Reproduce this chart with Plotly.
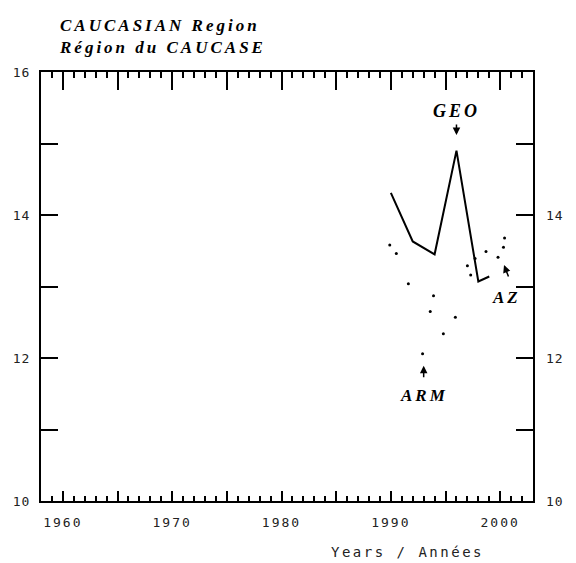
import plotly.graph_objects as go

# ---- data ----
geo_years = [1990, 1992, 1994, 1996, 1998, 1999]
geo_vals = [14.31, 13.63, 13.45, 14.90, 13.07, 13.14]

arm_years = [1989.9, 1990.5, 1991.6, 1992.9, 1993.6, 1993.9, 1994.8, 1995.9]
arm_vals = [13.58, 13.46, 13.04, 12.06, 12.65, 12.87, 12.34, 12.57]

az_years = [1997.0, 1997.3, 1997.7, 1998.7, 1999.8, 2000.3, 2000.4]
az_vals = [13.29, 13.16, 13.39, 13.49, 13.41, 13.55, 13.68]

x_major = [1960, 1965, 1970, 1975, 1980, 1985, 1990, 1995, 2000]
x_labels = ["1960", "", "1970", "", "1980", "", "1990", "", "2000"]
y_left_ticks = [10, 12, 14, 16]
y_right_ticks = [10, 12, 14]

MONO = "DejaVu Sans Mono"
SERIF = "Liberation Serif"


def spaced(t, ls):
    return '<span style="letter-spacing:%spx">%s</span>' % (ls, t)


def ital(t, ls=3):
    return '<b><i><span style="letter-spacing:%spx">%s</span></i></b>' % (ls, t)


fig = go.Figure()

fig.add_trace(go.Scatter(x=geo_years, y=geo_vals, mode="lines",
                         line=dict(color="black", width=2), showlegend=False,
                         hoverinfo="skip"))
fig.add_trace(go.Scatter(x=arm_years, y=arm_vals, mode="markers",
                         marker=dict(color="black", size=3), showlegend=False,
                         hoverinfo="skip"))
fig.add_trace(go.Scatter(x=az_years, y=az_vals, mode="markers",
                         marker=dict(color="black", size=3), showlegend=False,
                         hoverinfo="skip"))
# invisible traces to activate the top and right axes
fig.add_trace(go.Scatter(x=[1990], y=[13], xaxis="x2", yaxis="y",
                         mode="markers", marker=dict(opacity=0),
                         showlegend=False, hoverinfo="skip"))
fig.add_trace(go.Scatter(x=[1990], y=[13], xaxis="x", yaxis="y2",
                         mode="markers", marker=dict(opacity=0),
                         showlegend=False, hoverinfo="skip"))

fig.update_layout(
    width=576, height=563,
    margin=dict(l=41, r=36, t=72, b=62),
    paper_bgcolor="white", plot_bgcolor="white",
    font=dict(family=MONO, color="black", size=14),
    xaxis=dict(range=[1958, 2003], showgrid=False, zeroline=False,
               showline=True, linecolor="black", linewidth=2,
               tickmode="array", tickvals=x_major,
               ticktext=[spaced(t, 2) if t else "" for t in x_labels],
               ticks="inside", ticklen=10, tickwidth=2, tickcolor="black",
               minor=dict(dtick=1, tick0=1958, ticks="inside", ticklen=5,
                          tickwidth=1.5, tickcolor="black", showgrid=False),
               ticklabelstandoff=8,
               tickfont=dict(family=MONO, size=13, color="#222")),
    xaxis2=dict(range=[1958, 2003], overlaying="x", side="top", anchor="y",
                showgrid=False, zeroline=False, showline=True,
                linecolor="black", linewidth=2,
                tickmode="array", tickvals=x_major, showticklabels=False,
                ticks="inside", ticklen=18, tickwidth=2, tickcolor="black",
                minor=dict(dtick=1, tick0=1958, ticks="inside", ticklen=6,
                           tickwidth=1.5, tickcolor="black", showgrid=False)),
    yaxis=dict(range=[10, 16], showgrid=False, zeroline=False,
               showline=True, linecolor="black", linewidth=2,
               mirror="allticks",
               tickmode="array", tickvals=y_left_ticks,
               ticktext=[spaced(str(v), 1) for v in y_left_ticks],
               ticks="inside", ticklen=17, tickwidth=2, tickcolor="black",
               minor=dict(dtick=1, tick0=10, ticks="inside", ticklen=8,
                          tickwidth=1.5, tickcolor="black", showgrid=False),
               ticklabelstandoff=6,
               tickfont=dict(family=MONO, size=13, color="#222")),
    yaxis2=dict(range=[10, 16], overlaying="y", side="right", anchor="x",
                showgrid=False, zeroline=False, showline=False,
                tickmode="array", tickvals=y_right_ticks,
                ticktext=[spaced(str(v), 1) for v in y_right_ticks],
                ticks="", ticklabelstandoff=12,
                tickfont=dict(family=MONO, size=13, color="#222")),
)

annotations = [
    # title
    dict(text=ital("CAUCASIAN Region", 3) + "<br>" + ital("Région du CAUCASE", 3),
         xref="paper", yref="paper", x=(57 - 41) / 499, y=1 + (72 - 14) / 429,
         xanchor="left", yanchor="top", align="left", showarrow=False,
         font=dict(family=SERIF, size=17, color="black")),
    # x axis title
    dict(text=spaced("Years / Années", 2.5), xref="paper", yref="paper",
         x=(413 - 41) / 499, y=-(552 - 501) / 429, xanchor="center",
         yanchor="middle", showarrow=False,
         font=dict(family=MONO, size=14, color="#222")),
    # GEO label and arrow
    dict(text=ital("GEO", 3), x=1996, y=15.46, xref="x", yref="y",
         showarrow=False, font=dict(family=SERIF, size=18, color="black")),
    dict(text="", x=1996, y=15.12, xref="x", yref="y", showarrow=True,
         ax=0, ay=-12, arrowhead=2, arrowsize=1, arrowwidth=1.5,
         arrowcolor="black"),
    # ARM label and arrow
    dict(text=ital("ARM", 3), x=1993.0, y=11.48, xref="x", yref="y",
         showarrow=False, font=dict(family=SERIF, size=17, color="black")),
    dict(text="", x=1993.0, y=11.89, xref="x", yref="y", showarrow=True,
         ax=0, ay=13, arrowhead=2, arrowsize=1, arrowwidth=1.5,
         arrowcolor="black"),
    # AZ label and arrow
    dict(text=ital("AZ", 3), x=2000.6, y=12.85, xref="x", yref="y",
         showarrow=False, font=dict(family=SERIF, size=17, color="black")),
    dict(text="", x=2000.35, y=13.30, xref="x", yref="y", showarrow=True,
         ax=5, ay=13, arrowhead=2, arrowsize=1, arrowwidth=1.5,
         arrowcolor="black"),
]
fig.update_layout(annotations=annotations)

fig.write_html("out.html",
               config={"displayModeBar": False},
               post_script="document.body.style.margin='0';"
                           "document.body.style.padding='0';"
                           "document.body.style.overflow='hidden';")
